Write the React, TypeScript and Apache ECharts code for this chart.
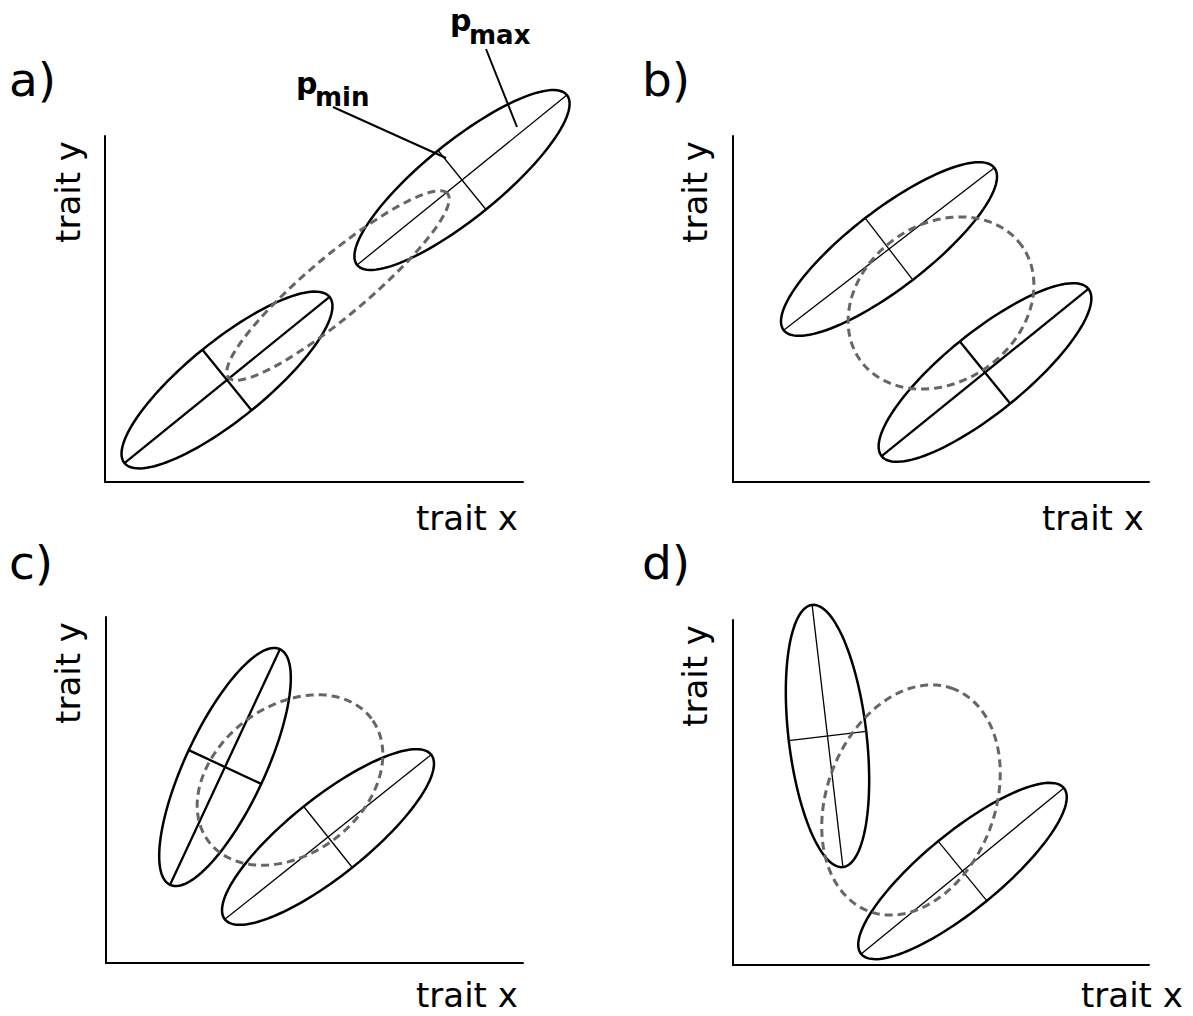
import React, { useEffect, useRef } from "react";
import * as echarts from "echarts";

// Ellipses per panel: [centerX, centerY, semiMajor, semiMinor, angleDeg]
const panelA = [
  [357, 302, 135, 38, 39],
  [122, 102, 132, 39, 39],
  [233, 196.5, 143, 30, 40],
];
const panelB = [
  [156, 233, 133, 39, 37.6],
  [252, 109.5, 133, 40, 39],
  [208, 179, 99, 79, 35],
];
const panelC = [
  [119, 196, 130, 40, 65],
  [222, 126, 132, 39, 38.6],
  [184, 183, 102, 74, 37],
];
const panelD = [
  [94.5, 229, 132, 39, 96.7],
  [229.5, 94, 131, 38.5, 39.3],
  [178, 165, 119, 84, 69],
];
// kind of each ellipse: thin axes, thick axes, or dashed outline only
const kindsA = ["thin", "thick", "dashed"];
const kindsB = ["thin", "thick", "dashed"];
const kindsC = ["thick", "thin", "dashed"];
const kindsD = ["thin", "thin", "dashed"];

const panelLabels = ["a)", "b)", "c)", "d)"];
const xName = "trait x";
const yName = "trait y";

const grids = [
  { left: 105, top: 136, width: 418, height: 346 },
  { left: 733, top: 136, width: 416, height: 346 },
  { left: 106, top: 617, width: 417, height: 346 },
  { left: 733, top: 620, width: 416, height: 345 },
];

const FONT = "DejaVu Sans";

function makeRender(kinds: string[]) {
  return (params: any, api: any) => {
    const cx = api.value(0);
    const cy = api.value(1);
    const A = api.value(2);
    const B = api.value(3);
    const ang = (api.value(4) * Math.PI) / 180;
    const kind = kinds[params.dataIndex];
    const c = Math.cos(ang);
    const s = Math.sin(ang);
    const pts: number[][] = [];
    const N = 120;
    for (let k = 0; k < N; k++) {
      const t = (2 * Math.PI * k) / N;
      const ex = A * Math.cos(t);
      const ey = B * Math.sin(t);
      pts.push(api.coord([cx + ex * c - ey * s, cy + ex * s + ey * c]));
    }
    const children: any[] = [];
    if (kind === "dashed") {
      children.push({
        type: "polygon",
        shape: { points: pts },
        style: { fill: "none", stroke: "#666666", lineWidth: 3, lineDash: [8, 5] },
      });
    } else {
      children.push({
        type: "polygon",
        shape: { points: pts },
        style: { fill: "none", stroke: "#000", lineWidth: 2.5 },
      });
      const w = kind === "thick" ? 2.3 : 1.3;
      const p1 = api.coord([cx - A * c, cy - A * s]);
      const p2 = api.coord([cx + A * c, cy + A * s]);
      const q1 = api.coord([cx + B * s, cy - B * c]);
      const q2 = api.coord([cx - B * s, cy + B * c]);
      children.push({
        type: "line",
        shape: { x1: p1[0], y1: p1[1], x2: p2[0], y2: p2[1] },
        style: { stroke: "#000", lineWidth: w },
      });
      children.push({
        type: "line",
        shape: { x1: q1[0], y1: q1[1], x2: q2[0], y2: q2[1] },
        style: { stroke: "#000", lineWidth: w },
      });
    }
    return { type: "group", children };
  };
}

export default function App() {
  const ref = useRef<HTMLDivElement>(null);
  useEffect(() => {
    if (!ref.current) return;
    const chart = echarts.init(ref.current, null, { renderer: "svg" });
    const panels = [panelA, panelB, panelC, panelD];
    const kinds = [kindsA, kindsB, kindsC, kindsD];
    const axisLine = { show: true, lineStyle: { color: "#000", width: 2 } };
    const xAxis = grids.map((g, i) => ({
      type: "value",
      gridIndex: i,
      min: 0,
      max: g.width,
      axisLine,
      axisTick: { show: false },
      axisLabel: { show: false },
      splitLine: { show: false },
    }));
    const yAxis = grids.map((g, i) => ({
      type: "value",
      gridIndex: i,
      min: 0,
      max: g.height,
      axisLine,
      axisTick: { show: false },
      axisLabel: { show: false },
      splitLine: { show: false },
    }));
    const series = panels.map((d, i) => ({
      type: "custom",
      xAxisIndex: i,
      yAxisIndex: i,
      data: d,
      clip: false,
      renderItem: makeRender(kinds[i]),
    }));

    const labelPos = [
      [9, 79],
      [642, 79],
      [9, 562],
      [642, 562],
    ];
    const xNamePos = [
      [416, 518],
      [1042, 518],
      [416, 995],
      [1081, 995],
    ];
    const yNamePos = [
      [68, 192],
      [695, 192],
      [68, 673],
      [695, 676],
    ];
    const graphic: any[] = [];
    panelLabels.forEach((t, i) => {
      graphic.push({
        type: "text",
        x: labelPos[i][0],
        y: labelPos[i][1],
        style: { text: t, font: `47px "${FONT}"`, fill: "#000", verticalAlign: "middle", align: "left", lineHeight: 46 },
      });
      graphic.push({
        type: "text",
        x: xNamePos[i][0],
        y: xNamePos[i][1],
        style: { text: xName, font: `34px "${FONT}"`, fill: "#000", verticalAlign: "middle", align: "left", lineHeight: 26 },
      });
      graphic.push({
        type: "text",
        x: yNamePos[i][0],
        y: yNamePos[i][1],
        rotation: Math.PI / 2,
        style: { text: yName, font: `34px "${FONT}"`, fill: "#000", verticalAlign: "middle", align: "center", lineHeight: 30 },
      });
    });
    // p_max / p_min annotations
    graphic.push(
      { type: "text", x: 450, y: 20, style: { text: "p", font: `bold 30px "${FONT}"`, fill: "#000", verticalAlign: "middle", lineHeight: 28 } },
      { type: "text", x: 469, y: 35, style: { text: "max", font: `bold 26px "${FONT}"`, fill: "#000", verticalAlign: "middle", lineHeight: 24 } },
      { type: "text", x: 296, y: 83, style: { text: "p", font: `bold 30px "${FONT}"`, fill: "#000", verticalAlign: "middle", lineHeight: 28 } },
      { type: "text", x: 315, y: 97, style: { text: "min", font: `bold 26px "${FONT}"`, fill: "#000", verticalAlign: "middle", lineHeight: 24 } },
      { type: "line", shape: { x1: 486, y1: 49, x2: 517, y2: 127 }, style: { stroke: "#000", lineWidth: 2 } },
      { type: "line", shape: { x1: 333, y1: 107, x2: 446, y2: 158 }, style: { stroke: "#000", lineWidth: 2 } }
    );

    chart.setOption({
      animation: false,
      backgroundColor: "#fff",
      grid: grids.map((g) => ({ ...g })),
      xAxis,
      yAxis,
      series,
      graphic,
    });
    return () => chart.dispose();
  }, []);
  return (
    <div
      ref={ref}
      style={{ position: "absolute", left: 0, top: 0, width: 1193, height: 1016 }}
    />
  );
}
